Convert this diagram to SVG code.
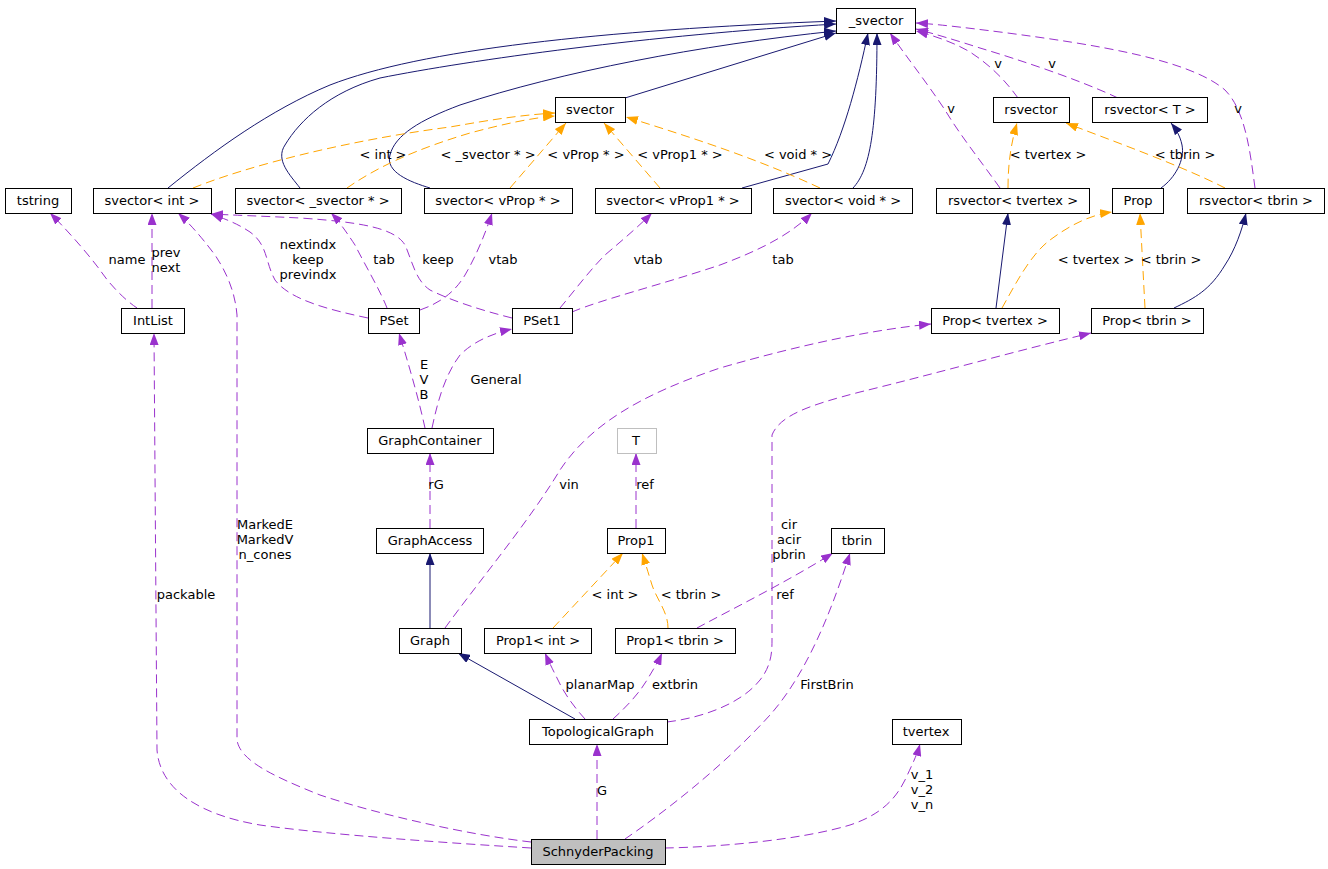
<svg xmlns="http://www.w3.org/2000/svg" width="1328" height="869" viewBox="0 0 1328 869">
<style>
text{font-family:"DejaVu Sans","Liberation Sans",sans-serif;font-size:13px;fill:#000;text-anchor:middle}
.n rect{fill:#fff;stroke:#000;stroke-width:1}
.n.g rect{stroke:#bfbfbf}
.n.s rect{fill:#bfbfbf}
.e path{fill:none;stroke-width:1}
.b{stroke:#191970}
.o{stroke:#ffa500;stroke-dasharray:9,5}
.p{stroke:#9a32cd;stroke-dasharray:9,5}
.b{marker-end:url(#mb)}
.o{marker-end:url(#mo)}
.p{marker-end:url(#mp)}
</style>
<defs>
<marker id="mb" viewBox="0 0 12 9" refX="12" refY="4.5" markerWidth="12" markerHeight="9" markerUnits="userSpaceOnUse" orient="auto"><path d="M0,0 L12,4.5 L0,9 z" fill="#191970" stroke="none"/></marker>
<marker id="mo" viewBox="0 0 12 9" refX="12" refY="4.5" markerWidth="12" markerHeight="9" markerUnits="userSpaceOnUse" orient="auto"><path d="M0,0 L12,4.5 L0,9 z" fill="#ffa500" stroke="none"/></marker>
<marker id="mp" viewBox="0 0 12 9" refX="12" refY="4.5" markerWidth="12" markerHeight="9" markerUnits="userSpaceOnUse" orient="auto"><path d="M0,0 L12,4.5 L0,9 z" fill="#9a32cd" stroke="none"/></marker>
</defs>
<rect width="1328" height="869" fill="#fff"/>
<g id="connectors" class="e">
<path class="b" d="M168,188 C215,150 270,110 330,85 C420,50 600,30 836,21"/>
<path class="b" d="M300,188 C290,175 275,160 285,145 C300,120 330,92 380,78 C470,60 650,35 836,24"/>
<path class="b" d="M430,188 C410,182 385,172 390,155 C395,135 420,120 460,105 C560,72 700,45 836,31"/>
<path class="b" d="M742,188 L828,164 C845,130 858,80 868,33"/>
<path class="b" d="M853,188 C870,170 877,130 877,33"/>
<path class="b" d="M625,98 L836,33"/>
<path class="b" d="M1161,188 C1175,178 1185,160 1182,145 C1180,135 1175,128 1171,123"/>
<path class="b" d="M996,308 L1008,213"/>
<path class="b" d="M1174,308 C1195,298 1210,290 1225,265 C1235,250 1242,230 1246,213"/>
<path class="b" d="M430,628 L430,553"/>
<path class="b" d="M575,719 L458,653"/>
<path class="o" d="M193,188 C250,165 350,140 450,127 C490,120 520,115 555,113"/>
<path class="o" d="M347,188 C380,165 420,148 470,133 C500,125 530,118 555,116"/>
<path class="o" d="M510,188 L566,123"/>
<path class="o" d="M660,188 L604,123"/>
<path class="o" d="M820,188 C760,160 700,140 626,117"/>
<path class="o" d="M1008,188 C1008,160 1012,140 1017,123"/>
<path class="o" d="M1225,188 C1180,165 1110,140 1066,123"/>
<path class="o" d="M1002,308 C1015,285 1030,255 1050,240 C1070,225 1090,215 1112,212"/>
<path class="o" d="M1145,308 L1140,213"/>
<path class="o" d="M553,628 L623,553"/>
<path class="o" d="M668,628 C668,612 657,600 652,585 C648,572 645,562 642,553"/>
<path class="p" d="M1018,98 C1005,80 990,65 970,52 C955,43 935,36 916,31"/>
<path class="p" d="M1118,98 C1080,80 1020,60 980,48 C955,40 935,34 916,29"/>
<path class="p" d="M1000,188 C980,160 960,135 945,110 C925,80 905,55 890,33"/>
<path class="p" d="M1255,188 C1250,150 1245,110 1225,90 C1190,60 1100,45 1000,32 C960,27 935,24 916,23"/>
<path class="p" d="M137,308 C125,300 110,285 100,270 C85,250 65,228 50,213"/>
<path class="p" d="M152,308 L152,213"/>
<path class="p" d="M368,318 C330,310 290,300 275,280 C265,262 268,245 250,232 C235,222 222,218 211,214"/>
<path class="p" d="M387,308 C380,290 365,265 355,245 C345,230 338,220 331,213"/>
<path class="p" d="M420,310 C440,303 455,292 465,275 C475,258 485,235 492,213"/>
<path class="p" d="M512,318 C480,310 450,300 430,290 C415,280 412,260 405,245 C395,228 360,222 300,218 C260,216 230,215 211,214"/>
<path class="p" d="M560,308 C575,290 590,270 605,255 C625,238 640,225 652,213"/>
<path class="p" d="M572,312 C600,300 660,285 720,265 C760,250 790,235 812,213"/>
<path class="p" d="M425,428 C420,405 412,375 399,333"/>
<path class="p" d="M432,428 C438,400 445,375 460,355 C475,340 495,333 512,329"/>
<path class="p" d="M430,528 L430,453"/>
<path class="p" d="M636,528 L636,453"/>
<path class="p" d="M697,628 C740,605 790,580 833,553"/>
<path class="p" d="M445,628 C480,580 530,520 560,470 C590,425 640,395 720,368 C800,345 870,330 931,324"/>
<path class="p" d="M667,722 C700,718 740,705 760,680 C772,665 772,650 772,640 L772,435 C780,415 810,405 860,392 C930,375 1020,350 1091,333"/>
<path class="p" d="M585,719 C575,708 565,695 558,680 C552,668 548,660 545,653"/>
<path class="p" d="M613,719 C625,708 638,695 647,680 C653,670 658,662 662,653"/>
<path class="p" d="M597,839 L597,744"/>
<path class="p" d="M665,848 C720,847 800,840 850,825 C880,815 895,800 905,780 C912,765 917,755 920,744"/>
<path class="p" d="M625,839 C660,815 720,770 770,715 C810,670 835,600 850,553"/>
<path class="p" d="M531,848 C450,843 330,835 260,825 C200,815 160,790 157,750 L154,333"/>
<path class="p" d="M531,842 C470,835 380,815 320,795 C270,775 240,760 237,740 L237,315 C235,290 225,270 215,255 C200,235 188,222 178,213"/>
</g>
<g id="edge-labels">
<text x="383" y="159">&lt; int &gt;</text>
<text x="488" y="159">&lt; _svector * &gt;</text>
<text x="586" y="159">&lt; vProp * &gt;</text>
<text x="680" y="159">&lt; vProp1 * &gt;</text>
<text x="798" y="159">&lt; void * &gt;</text>
<text x="998" y="68">v</text>
<text x="1052" y="68">v</text>
<text x="951" y="113">v</text>
<text x="1238" y="113">v</text>
<text x="1048" y="159">&lt; tvertex &gt;</text>
<text x="1185" y="159">&lt; tbrin &gt;</text>
<text x="127" y="264">name</text>
<text x="166" y="257">prev</text>
<text x="166" y="272">next</text>
<text x="308" y="249">nextindx</text>
<text x="308" y="264">keep</text>
<text x="308" y="279">previndx</text>
<text x="384" y="264">tab</text>
<text x="438" y="264">keep</text>
<text x="503" y="264">vtab</text>
<text x="648" y="264">vtab</text>
<text x="783" y="264">tab</text>
<text x="1096" y="264">&lt; tvertex &gt;</text>
<text x="1171" y="264">&lt; tbrin &gt;</text>
<text x="424" y="369">E</text>
<text x="424" y="384">V</text>
<text x="424" y="399">B</text>
<text x="496" y="384">General</text>
<text x="436" y="489">rG</text>
<text x="645" y="489">ref</text>
<text x="569" y="489">vin</text>
<text x="265" y="529">MarkedE</text>
<text x="265" y="544">MarkedV</text>
<text x="265" y="559">n_cones</text>
<text x="186" y="599">packable</text>
<text x="789" y="529">cir</text>
<text x="789" y="544">acir</text>
<text x="789" y="559">pbrin</text>
<text x="615" y="599">&lt; int &gt;</text>
<text x="691" y="599">&lt; tbrin &gt;</text>
<text x="785" y="599">ref</text>
<text x="600" y="689">planarMap</text>
<text x="675" y="689">extbrin</text>
<text x="827" y="689">FirstBrin</text>
<text x="602" y="795">G</text>
<text x="922" y="779">v_1</text>
<text x="922" y="794">v_2</text>
<text x="922" y="809">v_n</text>
</g>
<g id="n_svector_base" class="n"><rect x="836.5" y="8.5" width="79" height="25"/><text x="876" y="25">_svector</text></g>
<g id="n_svector" class="n"><rect x="555.5" y="97.5" width="70" height="25"/><text x="590" y="114">svector</text></g>
<g id="n_rsvector" class="n"><rect x="993.5" y="97.5" width="76" height="25"/><text x="1031" y="114">rsvector</text></g>
<g id="n_rsvector_T" class="n"><rect x="1092.5" y="97.5" width="115" height="25"/><text x="1150" y="114">rsvector&lt; T &gt;</text></g>
<g id="n_tstring" class="n"><rect x="5.5" y="188.5" width="66" height="25"/><text x="38" y="205">tstring</text></g>
<g id="n_svector_int" class="n"><rect x="93.5" y="188.5" width="118" height="25"/><text x="152" y="205">svector&lt; int &gt;</text></g>
<g id="n_svector_svp" class="n"><rect x="235.5" y="188.5" width="166" height="25"/><text x="318" y="205">svector&lt; _svector * &gt;</text></g>
<g id="n_svector_vprop" class="n"><rect x="424.5" y="188.5" width="148" height="25"/><text x="498" y="205">svector&lt; vProp * &gt;</text></g>
<g id="n_svector_vprop1" class="n"><rect x="595.5" y="188.5" width="156" height="25"/><text x="673" y="205">svector&lt; vProp1 * &gt;</text></g>
<g id="n_svector_void" class="n"><rect x="773.5" y="188.5" width="139" height="25"/><text x="843" y="205">svector&lt; void * &gt;</text></g>
<g id="n_rsvector_tvertex" class="n"><rect x="936.5" y="188.5" width="153" height="25"/><text x="1013" y="205">rsvector&lt; tvertex &gt;</text></g>
<g id="n_prop" class="n"><rect x="1112.5" y="188.5" width="51" height="25"/><text x="1138" y="205">Prop</text></g>
<g id="n_rsvector_tbrin" class="n"><rect x="1187.5" y="188.5" width="137" height="25"/><text x="1256" y="205">rsvector&lt; tbrin &gt;</text></g>
<g id="n_intlist" class="n"><rect x="121.5" y="308.5" width="63" height="25"/><text x="153" y="325">IntList</text></g>
<g id="n_pset" class="n"><rect x="368.5" y="308.5" width="51" height="25"/><text x="394" y="325">PSet</text></g>
<g id="n_pset1" class="n"><rect x="512.5" y="308.5" width="60" height="25"/><text x="542" y="325">PSet1</text></g>
<g id="n_prop_tvertex" class="n"><rect x="931.5" y="308.5" width="128" height="25"/><text x="995" y="325">Prop&lt; tvertex &gt;</text></g>
<g id="n_prop_tbrin" class="n"><rect x="1091.5" y="308.5" width="112" height="25"/><text x="1147" y="325">Prop&lt; tbrin &gt;</text></g>
<g id="n_graphcontainer" class="n"><rect x="367.5" y="428.5" width="126" height="25"/><text x="430" y="445">GraphContainer</text></g>
<g id="n_T" class="n g"><rect x="617.5" y="428.5" width="39" height="25"/><text x="636" y="445">T</text></g>
<g id="n_graphaccess" class="n"><rect x="376.5" y="528.5" width="107" height="25"/><text x="430" y="545">GraphAccess</text></g>
<g id="n_prop1" class="n"><rect x="607.5" y="528.5" width="58" height="25"/><text x="636" y="545">Prop1</text></g>
<g id="n_tbrin" class="n"><rect x="831.5" y="528.5" width="53" height="25"/><text x="857" y="545">tbrin</text></g>
<g id="n_graph" class="n"><rect x="399.5" y="628.5" width="62" height="25"/><text x="430" y="645">Graph</text></g>
<g id="n_prop1_int" class="n"><rect x="484.5" y="628.5" width="107" height="25"/><text x="538" y="645">Prop1&lt; int &gt;</text></g>
<g id="n_prop1_tbrin" class="n"><rect x="615.5" y="628.5" width="120" height="25"/><text x="675" y="645">Prop1&lt; tbrin &gt;</text></g>
<g id="n_topologicalgraph" class="n"><rect x="529.5" y="719.5" width="138" height="25"/><text x="598" y="736">TopologicalGraph</text></g>
<g id="n_tvertex" class="n"><rect x="892.5" y="719.5" width="69" height="25"/><text x="926" y="736">tvertex</text></g>
<g id="n_schnyderpacking" class="n s"><rect x="531.5" y="839.5" width="134" height="25"/><text x="598" y="856">SchnyderPacking</text></g>
</svg>
